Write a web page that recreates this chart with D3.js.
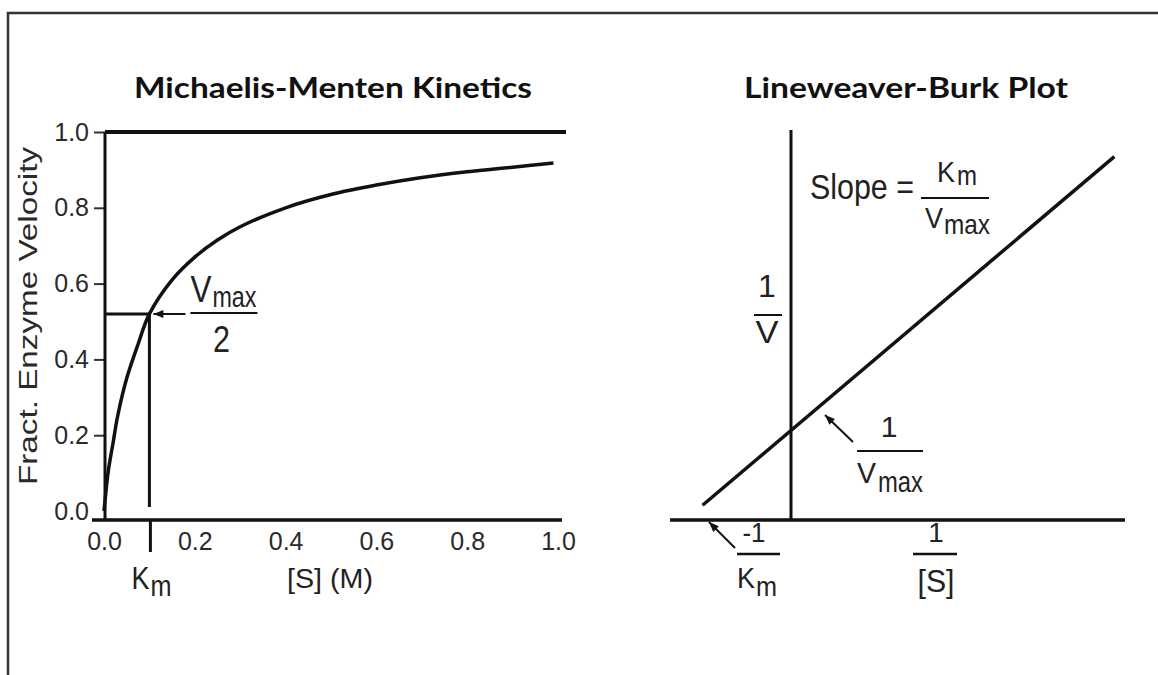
<!DOCTYPE html>
<html>
<head>
<meta charset="utf-8">
<script src="https://cdnjs.cloudflare.com/ajax/libs/d3/7.8.5/d3.min.js"></script>
<style>
	body { margin: 0; background: #fff; }
	svg { display: block; }
	.lbl { font-family: 'Liberation Sans', Arial, sans-serif; fill: #222; }
	.title { font-family: Lato, 'Open Sans', sans-serif; font-weight: bold; font-size: 29px; fill: #111; }
	.tick text { font-family: 'Liberation Sans', Arial, sans-serif; font-size: 25px; fill: #2a2a2a; }
</style>
</head>
<body>
<script>
// Michaelis-Menten curve, values
const substrate = [0, 0.005, 0.01, 0.02, 0.03, 0.05, 0.075, 0.1, 0.15, 0.2, 0.25, 0.3, 0.4, 0.5, 0.6, 0.7, 0.8, 0.9, 0.99];
const velocity = [0, 0.06, 0.11, 0.18, 0.25, 0.35, 0.44, 0.52, 0.61, 0.67, 0.715, 0.75, 0.80, 0.835, 0.86, 0.88, 0.895, 0.907, 0.918];
const yTicks = [0, 0.2, 0.4, 0.6, 0.8, 1.0];
const xTicks = [0, 0.2, 0.4, 0.6, 0.8, 1.0];
const vmax = 1.0;
const km = 0.1;
const halfV = 0.52;

// Lineweaver-Burk line, 1/[S] against 1/V (arbitrary units)
const invS = [-0.61, 2.23];
const invV = [0.16, 3.95];
const invSTick = 1;
const invVmax = 1;
const lbXDomain = [-0.834, 2.303];
const lbYTop = 4.24;

var svgSize = {'width': 1158, 'height': 675};

var svg = d3.select('body').append('svg')
	.attr('width', svgSize.width)
	.attr('height', svgSize.height);

svg.append('defs').append('marker')
	.attr('id', 'head')
	.attr('viewBox', '0 0 10 10')
	.attr('refX', 10)
	.attr('refY', 5)
	.attr('markerWidth', 13)
	.attr('markerHeight', 10)
	.attr('markerUnits', 'userSpaceOnUse')
	.attr('orient', 'auto')
	.append('path')
	.attr('d', 'M0,1 L10,5 L0,9 z')
	.attr('fill', '#111');

// frame (top and left only)
svg.append('path')
	.attr('d', 'M8,675 V13 H1158')
	.attr('fill', 'none')
	.attr('stroke', '#333')
	.attr('stroke-width', 2.5);

function label(x, y, str, size, len, anchor) {
	var t = svg.append('text')
		.attr('class', 'lbl')
		.attr('x', x)
		.attr('y', y)
		.style('font-size', size + 'px')
		.text(str);
	if (anchor) t.attr('text-anchor', anchor);
	if (len) t.attr('textLength', len).attr('lengthAdjust', 'spacingAndGlyphs');
	return t;
}

function rule(x1, y1, x2, y2, w) {
	return svg.append('line')
		.attr('x1', x1).attr('y1', y1)
		.attr('x2', x2).attr('y2', y2)
		.attr('stroke', '#111')
		.attr('stroke-width', w);
}

function arrow(x1, y1, x2, y2) {
	return rule(x1, y1, x2, y2, 2).attr('marker-end', 'url(#head)');
}

// ---------- Michaelis-Menten ----------
var xL = d3.scaleLinear().domain([0, 1]).range([104, 558]);
var yL = d3.scaleLinear().domain([0, 1]).range([511, 132]);
var axisY = yL(0) + 9;

svg.append('text')
	.attr('class', 'title')
	.attr('x', 333)
	.attr('y', 98)
	.attr('text-anchor', 'middle')
	.attr('textLength', 398)
	.attr('lengthAdjust', 'spacingAndGlyphs')
	.text('Michaelis-Menten Kinetics');

var yAxisL = svg.append('g')
	.attr('transform', `translate(${xL(0) + 1}, 0)`)
	.call(d3.axisLeft(yL).tickValues(yTicks).tickSize(11).tickPadding(5).tickFormat(d3.format('.1f')));
yAxisL.select('.domain').remove();
yAxisL.selectAll('.tick line').attr('stroke', '#333').attr('stroke-width', 2);
yAxisL.selectAll('.tick').filter((d) => d === 0).select('line').remove();

var xAxisL = svg.append('g')
	.attr('transform', `translate(0, ${axisY})`)
	.call(d3.axisBottom(xL).tickValues(xTicks).tickSize(0).tickPadding(12).tickFormat(d3.format('.1f')));
xAxisL.select('.domain').remove();

rule(xL(0) + 1, yL(vmax), xL(0) + 1, axisY, 3);
rule(92, axisY, xL(1) + 4, axisY, 3.5);

// Vmax asymptote
rule(xL(0) + 1, yL(vmax), xL(1) + 8, yL(vmax), 4);

// the curve
var points = substrate.map((s, i) => [s, velocity[i]]);
svg.append('path')
	.datum(points)
	.attr('d', d3.line().x((d) => xL(d[0])).y((d) => yL(d[1])).curve(d3.curveCatmullRom))
	.attr('fill', 'none')
	.attr('stroke', '#111')
	.attr('stroke-width', 3.5);

// Km guides
var ax = xL(km), ay = yL(halfV);
svg.append('path')
	.attr('d', `M${xL(0) + 1},${ay} H${ax} V${yL(0) - 4}`)
	.attr('fill', 'none')
	.attr('stroke', '#111')
	.attr('stroke-width', 3);
rule(ax + 1, axisY, ax + 1, axisY + 32, 3);

arrow(ax + 36, ay, ax + 4, ay);
label(ax + 41, ay - 12, 'V', 36, 21);
label(ax + 63, ay - 7, 'max', 30, 44);
rule(ax + 41, ay - 1, ax + 108, ay - 1, 2);
label(ax + 72, ay + 38, '2', 36, 17, 'middle');

label(ax - 18, 589, 'K', 32, 18);
label(ax + 1, 596, 'm', 30, 21);
label(287, 588, '[S] (M)', 28, 86);

svg.append('text')
	.attr('class', 'lbl')
	.attr('transform', 'translate(37, 316) rotate(-90)')
	.attr('text-anchor', 'middle')
	.attr('textLength', 338)
	.attr('lengthAdjust', 'spacingAndGlyphs')
	.style('font-size', '25px')
	.style('fill', '#2a2a2a')
	.text('Fract. Enzyme Velocity');

// ---------- Lineweaver-Burk ----------
var xR = d3.scaleLinear().domain([0, 1]).range([791, 936]);
var yR = d3.scaleLinear().domain([0, 1]).range([520, 428]);
var ox = xR(0), oy = yR(0);

svg.append('text')
	.attr('class', 'title')
	.attr('x', 906)
	.attr('y', 98)
	.attr('text-anchor', 'middle')
	.attr('textLength', 324)
	.attr('lengthAdjust', 'spacingAndGlyphs')
	.text('Lineweaver-Burk Plot');

rule(ox, oy, ox, yR(lbYTop), 3);
rule(xR(lbXDomain[0]), oy, xR(lbXDomain[1]), oy, 3.5);

svg.append('path')
	.datum(invS.map((s, i) => [s, invV[i]]))
	.attr('d', d3.line().x((d) => xR(d[0])).y((d) => yR(d[1])))
	.attr('fill', 'none')
	.attr('stroke', '#111')
	.attr('stroke-width', 3.5);

// 1/V
label(ox - 24, 297, '1', 32, null, 'middle');
rule(ox - 37, 315, ox - 9, 315, 2);
label(ox - 24, 343, 'V', 32, 23, 'middle');

// slope
label(810, 199, 'Slope =', 35, 104);
rule(921, 198, 989, 198, 2);
label(937, 182, 'K', 30, 18);
label(957, 185, 'm', 28, 20);
label(925, 228, 'V', 29, 18);
label(944, 234, 'max', 28, 46);

// 1/Vmax
var iy = yR(invVmax);
arrow(ox + 62, iy + 14, ox + 34, iy - 13);
label(ox + 98, iy + 9, '1', 30, null, 'middle');
rule(ox + 66, iy + 23, ox + 132, iy + 23, 2);
label(ox + 66, iy + 55, 'V', 30, 19);
label(ox + 87, iy + 64, 'max', 29, 45);

// -1/Km
arrow(735, oy + 28, 709, oy + 2);
label(754, oy + 22, '-1', 28, 23, 'middle');
rule(737, oy + 34, 780, oy + 34, 2.5);
label(737, oy + 68, 'K', 30, 18);
label(756, oy + 76, 'm', 28, 21);

// 1/[S]
label(xR(invSTick), oy + 22, '1', 28, null, 'middle');
rule(xR(invSTick) - 23, oy + 34, xR(invSTick) + 21, oy + 34, 2.5);
label(xR(invSTick), oy + 72, '[S]', 32, 37, 'middle');
</script>
</body>
</html>
